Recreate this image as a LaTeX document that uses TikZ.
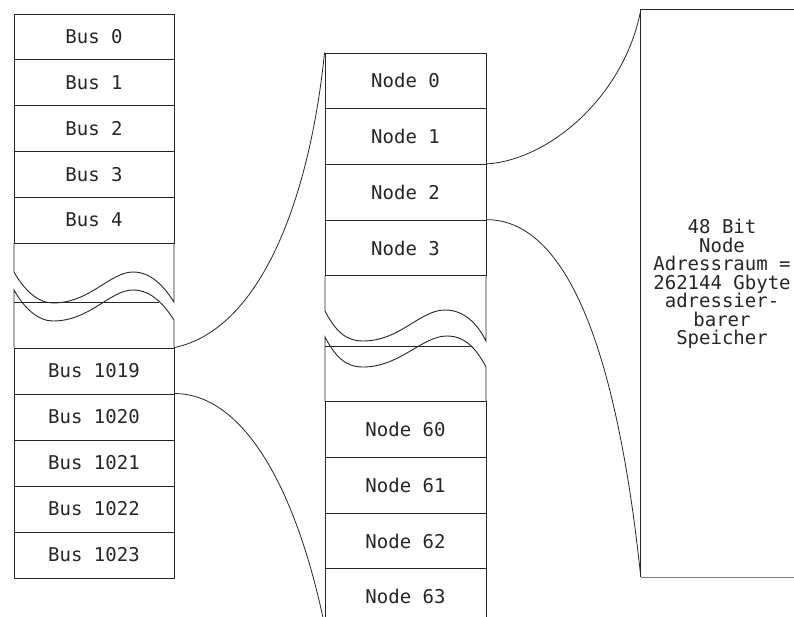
\documentclass[tikz,border=0pt]{standalone}
\usepackage{fontspec}
\newfontfamily\labelfont{DejaVu Sans Mono}
\begin{document}
\begin{tikzpicture}[x=1pt,y=-1pt,
  lbl/.style={font=\labelfont\fontsize{19}{18.5}\selectfont, text=black!85},
  busrow/.style={draw=black!85, line width=0.9pt, rectangle, inner sep=0pt, minimum width=160pt, lbl},
  noderow/.style={draw=black!85, line width=0.9pt, rectangle, inner sep=0pt, minimum width=161pt, minimum height=55.7pt, lbl},
  piece/.style={draw=black!85, line width=0.9pt},
  link/.style={draw=black!85, line width=0.8pt}]
\useasboundingbox (0,0) rectangle (794,617);
\clip (0,0) rectangle (794,617);

% ---- left column (buses) ----
\node[busrow, minimum height=45.8pt] (b0) at (94,36.9) {Bus 0};
\node[busrow, minimum height=45.8pt] (b1) at (94,82.7) {Bus 1};
\node[busrow, minimum height=45.8pt] (b2) at (94,128.5) {Bus 2};
\node[busrow, minimum height=45.8pt] (b3) at (94,174.3) {Bus 3};
\node[busrow, minimum height=45.8pt] (b4) at (94,220.1) {Bus 4};
\node[busrow, minimum height=46pt] (b1019) at (94,371) {Bus 1019};
\node[busrow, minimum height=46pt] (b1020) at (94,417) {Bus 1020};
\node[busrow, minimum height=46pt] (b1021) at (94,463) {Bus 1021};
\node[busrow, minimum height=46pt] (b1022) at (94,509) {Bus 1022};
\node[busrow, minimum height=46pt] (b1023) at (94,555) {Bus 1023};

% broken section of bus column
\draw[piece] (14,243) -- (14,272) .. controls (24,290) and (38,303) .. (53,303)
  .. controls (90,303) and (110,272) .. (133,272)
  .. controls (152,272) and (165,288) .. (174,302) -- (174,243);
\draw[piece] (14,348) -- (14,290) .. controls (24,308) and (38,321) .. (53,321)
  .. controls (90,321) and (110,290) .. (133,290)
  .. controls (152,290) and (165,306) .. (174,320) -- (174,348);
\draw[piece] (14,302) -- (159,302);

% ---- middle column (nodes) ----
\node[noderow] (n0) at (405.5,80.85) {Node 0};
\node[noderow] (n1) at (405.5,136.55) {Node 1};
\node[noderow] (n2) at (405.5,192.25) {Node 2};
\node[noderow] (n3) at (405.5,247.95) {Node 3};
\node[noderow] (n60) at (405.5,429.55) {Node 60};
\node[noderow] (n61) at (405.5,485.25) {Node 61};
\node[noderow] (n62) at (405.5,540.95) {Node 62};
\node[noderow] (n63) at (405.5,596.65) {Node 63};

% broken section of node column
\draw[piece] (325,275.8) -- (325,311) .. controls (335,330) and (345,341) .. (363,341)
  .. controls (400,341) and (420,310) .. (445,310)
  .. controls (465,310) and (478,325) .. (486,341) -- (486,275.8);
\draw[piece] (325,401.7) -- (325,337) .. controls (335,356) and (345,367) .. (363,367)
  .. controls (400,367) and (422,336) .. (447,336)
  .. controls (467,336) and (478,352) .. (486,367) -- (486,401.7);
\draw[piece] (325,346) -- (471,346);

% ---- memory box ----
\node[rectangle, inner sep=0pt, minimum width=162pt, minimum height=567pt] (mem) at (722,293.5) {};
\draw[piece] (mem.north east) -- (mem.north west) -- (mem.south west);
\draw[piece, draw=black!50] (mem.south west) -- (mem.south east);
\node[lbl, align=center] (memtxt) at (722,284) {48 Bit\\Node\\Adressraum =\\262144 Gbyte\\adressier-\\barer\\Speicher};

% ---- connectors ----
\draw[link] (b1019.north east) .. controls +(86,-18) and +(-15,147) .. (n0.north west);
\draw[link] (b1020.north east) .. controls +(66,0) and +(-30,-144) .. (n63.south west);
\draw[link] (n2.north east) .. controls +(64,-4) and +(-16,85) .. (mem.north west);
\draw[link] (n3.north east) .. controls +(74,0) and +(-26,-247) .. (mem.south west);
\end{tikzpicture}
\end{document}
